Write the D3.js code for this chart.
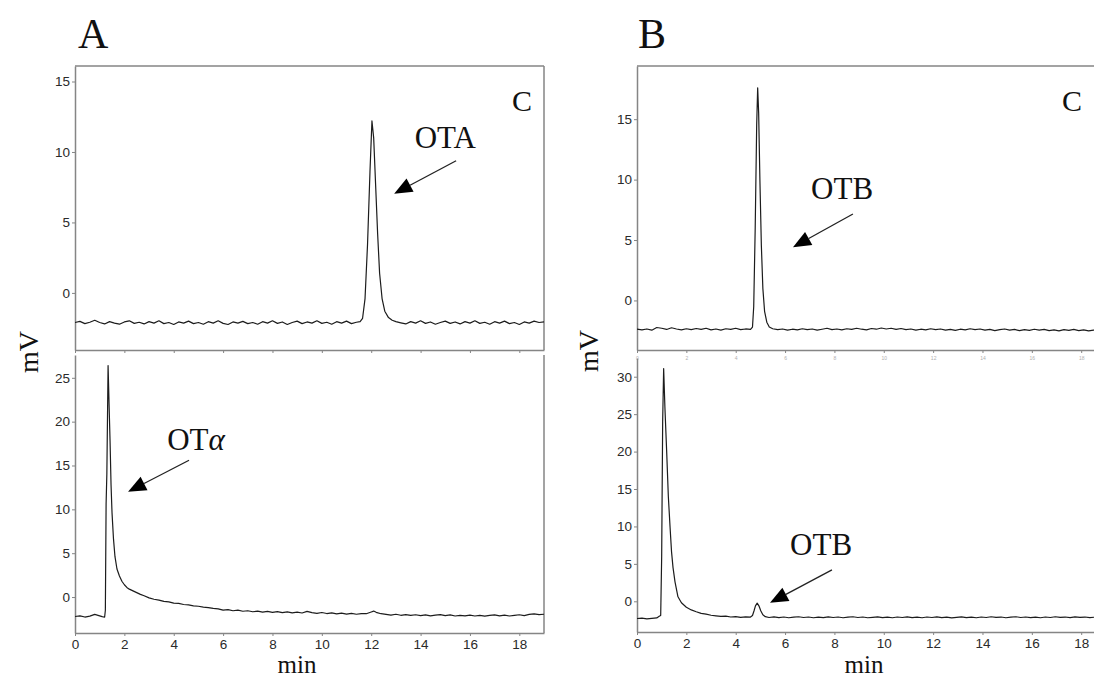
<!DOCTYPE html>
<html>
<head>
<meta charset="utf-8">
<script src="https://cdn.jsdelivr.net/npm/d3@7"></script>
<style>
  body { margin: 0; background: #fff; }
  svg { display: block; }
</style>
</head>
<body>
<svg id="chart" width="1094" height="679"></svg>
<script>
// ---- data (time in min, signal in mV) ----

// A, top: OTA standard
const otaTrace = [
  [0,-2.1],[0.2,-2.02],[0.4,-2.18],[0.6,-2.08],[0.8,-1.94],[1.0,-2.1],[1.2,-2.2],[1.4,-2.04],[1.6,-2.14],[1.8,-2.22],
  [2.0,-2.06],[2.2,-1.98],[2.4,-2.16],[2.6,-2.08],[2.8,-2.2],[3.0,-2.04],[3.2,-2.14],[3.4,-1.98],[3.6,-2.18],[3.8,-2.1],
  [4.0,-2.24],[4.2,-2.06],[4.4,-2.14],[4.6,-2.0],[4.8,-2.18],[5.0,-2.1],[5.2,-2.22],[5.4,-2.04],[5.6,-2.14],[5.8,-1.98],
  [6.0,-2.16],[6.2,-2.24],[6.4,-2.06],[6.6,-2.14],[6.8,-2.02],[7.0,-2.18],[7.2,-2.1],[7.4,-2.22],[7.6,-2.04],[7.8,-2.14],
  [8.0,-1.98],[8.2,-2.16],[8.4,-2.06],[8.6,-2.24],[8.8,-2.1],[9.0,-2.0],[9.2,-2.18],[9.4,-2.06],[9.6,-2.14],[9.8,-1.98],
  [10.0,-2.16],[10.2,-2.08],[10.4,-2.22],[10.6,-2.04],[10.8,-2.14],[11.0,-2.0],[11.2,-2.18],[11.4,-2.08],[11.55,-2.04],[11.65,-1.8],
  [11.75,-0.4],[11.85,3.4],[11.95,8.6],[12.03,12.2],[12.1,11.0],[12.18,7.6],[12.26,4.2],[12.34,1.4],[12.44,-0.4],[12.55,-1.3],
  [12.7,-1.75],[12.85,-1.94],[13.0,-2.04],[13.2,-2.12],[13.4,-2.2],[13.6,-2.04],[13.8,-2.14],[14.0,-1.98],[14.2,-2.16],[14.4,-2.06],
  [14.6,-2.22],[14.8,-2.1],[15.0,-2.0],[15.2,-2.16],[15.4,-2.06],[15.6,-2.2],[15.8,-2.04],[16.0,-2.14],[16.2,-1.98],[16.4,-2.16],
  [16.6,-2.08],[16.8,-2.22],[17.0,-2.04],[17.2,-2.14],[17.4,-2.0],[17.6,-2.18],[17.8,-2.1],[18.0,-2.24],[18.2,-2.06],[18.4,-2.14],
  [18.6,-2.0],[18.8,-2.1],[19.0,-2.06]
];

// A, bottom: OTalpha
const otAlphaTrace = [
  [0,-2.22],[0.2,-2.14],[0.4,-2.28],[0.6,-2.18],[0.8,-1.98],[1.0,-2.14],[1.1,-2.24],[1.2,-2.3],[1.23,-1.5],[1.26,10.6],
  [1.29,14.0],[1.34,26.4],[1.38,22.0],[1.42,17.8],[1.46,12.8],[1.5,9.6],[1.56,6.6],[1.62,4.6],[1.7,3.2],[1.8,2.4],
  [1.9,1.8],[2.0,1.4],[2.1,1.1],[2.2,0.9],[2.35,0.7],[2.5,0.5],[2.65,0.3],[2.8,0.15],[3.0,-0.1],[3.2,-0.25],
  [3.4,-0.35],[3.6,-0.5],[3.8,-0.55],[4.0,-0.7],[4.2,-0.72],[4.4,-0.85],[4.6,-0.9],[4.8,-1.0],[5.0,-1.05],[5.2,-1.15],
  [5.4,-1.2],[5.6,-1.3],[5.8,-1.35],[6.0,-1.5],[6.2,-1.44],[6.4,-1.56],[6.6,-1.5],[6.8,-1.62],[7.0,-1.56],[7.2,-1.68],
  [7.4,-1.6],[7.6,-1.72],[7.8,-1.64],[8.0,-1.74],[8.2,-1.66],[8.4,-1.78],[8.6,-1.7],[8.8,-1.8],[9.0,-1.72],[9.2,-1.82],
  [9.4,-1.64],[9.6,-1.78],[9.8,-1.86],[10.0,-1.76],[10.2,-1.88],[10.4,-1.8],[10.6,-1.92],[10.8,-1.84],[11.0,-1.94],[11.2,-1.86],
  [11.4,-1.96],[11.6,-1.88],[11.8,-1.9],[12.0,-1.7],[12.1,-1.6],[12.2,-1.74],[12.4,-1.9],[12.6,-1.98],[12.8,-2.06],[13.0,-1.96],
  [13.2,-2.08],[13.4,-2.0],[13.6,-2.1],[13.8,-2.02],[14.0,-2.12],[14.2,-2.04],[14.4,-2.14],[14.6,-2.06],[14.8,-2.0],[15.0,-2.12],
  [15.2,-2.04],[15.4,-2.16],[15.6,-2.08],[15.8,-2.14],[16.0,-2.06],[16.2,-2.16],[16.4,-2.08],[16.6,-2.18],[16.8,-2.1],[17.0,-2.04],
  [17.2,-2.14],[17.4,-2.06],[17.6,-2.16],[17.8,-2.08],[18.0,-2.02],[18.2,-2.12],[18.4,-1.98],[18.6,-1.92],[18.8,-2.0],[19.0,-1.96]
];

// B, top: OTB standard
const otbTrace = [
  [0,-2.38],[0.2,-2.44],[0.4,-2.36],[0.6,-2.46],[0.8,-2.24],[1.0,-2.3],[1.2,-2.4],[1.4,-2.26],[1.6,-2.36],[1.8,-2.44],
  [2.0,-2.34],[2.2,-2.42],[2.4,-2.32],[2.6,-2.4],[2.8,-2.3],[3.0,-2.44],[3.2,-2.36],[3.4,-2.46],[3.6,-2.34],[3.8,-2.4],
  [4.0,-2.3],[4.2,-2.42],[4.4,-2.36],[4.6,-2.4],[4.68,-2.2],[4.73,-0.5],[4.79,6.0],[4.85,14.5],[4.89,17.6],[4.93,15.5],
  [4.98,10.0],[5.04,4.5],[5.1,1.0],[5.17,-0.9],[5.26,-1.8],[5.36,-2.2],[5.5,-2.34],[5.7,-2.42],[5.9,-2.36],[6.1,-2.46],
  [6.3,-2.38],[6.5,-2.44],[6.7,-2.34],[6.9,-2.42],[7.1,-2.36],[7.3,-2.46],[7.5,-2.38],[7.7,-2.3],[7.9,-2.42],[8.1,-2.36],
  [8.3,-2.44],[8.5,-2.34],[8.7,-2.4],[8.9,-2.3],[9.1,-2.38],[9.3,-2.44],[9.5,-2.32],[9.7,-2.38],[9.9,-2.28],[10.1,-2.36],
  [10.3,-2.3],[10.5,-2.4],[10.7,-2.32],[10.9,-2.42],[11.1,-2.36],[11.3,-2.46],[11.5,-2.38],[11.7,-2.44],[11.9,-2.34],[12.1,-2.42],
  [12.3,-2.36],[12.5,-2.46],[12.7,-2.4],[12.9,-2.48],[13.1,-2.38],[13.3,-2.44],[13.5,-2.34],[13.7,-2.42],[13.9,-2.36],[14.1,-2.46],
  [14.3,-2.4],[14.5,-2.5],[14.7,-2.42],[14.9,-2.36],[15.1,-2.46],[15.3,-2.4],[15.5,-2.5],[15.7,-2.42],[15.9,-2.48],[16.1,-2.38],
  [16.3,-2.46],[16.5,-2.4],[16.7,-2.5],[16.9,-2.44],[17.1,-2.52],[17.3,-2.42],[17.5,-2.48],[17.7,-2.4],[17.9,-2.5],[18.1,-2.44],
  [18.3,-2.52],[18.5,-2.46],[18.7,-2.5]
];

// B, bottom: sample with OTB
const otbSampleTrace = [
  [0,-2.3],[0.2,-2.24],[0.4,-2.34],[0.6,-2.28],[0.8,-2.22],[0.9,-2.0],[0.96,-1.9],[1.0,6.0],[1.04,24.0],[1.08,31.1],
  [1.13,26.0],[1.2,20.2],[1.27,14.0],[1.34,9.9],[1.4,6.6],[1.46,4.5],[1.54,2.6],[1.66,0.6],[1.8,-0.2],[2.0,-0.8],
  [2.2,-1.15],[2.4,-1.4],[2.6,-1.62],[2.8,-1.72],[3.0,-1.86],[3.2,-1.94],[3.4,-2.02],[3.6,-1.98],[3.8,-2.1],[4.0,-2.04],
  [4.2,-2.14],[4.4,-2.08],[4.6,-2.1],[4.68,-1.9],[4.74,-1.3],[4.8,-0.6],[4.87,-0.25],[4.94,-0.6],[5.02,-1.3],[5.1,-1.8],
  [5.2,-2.05],[5.35,-2.16],[5.55,-2.08],[5.75,-2.18],[5.95,-2.1],[6.15,-2.2],[6.35,-2.12],[6.55,-2.06],[6.75,-2.16],[6.95,-2.1],
  [7.15,-2.2],[7.35,-2.12],[7.55,-2.18],[7.75,-2.08],[7.95,-2.16],[8.15,-2.1],[8.35,-2.2],[8.55,-2.12],[8.75,-2.06],[8.95,-2.16],
  [9.15,-2.1],[9.35,-2.2],[9.55,-2.14],[9.75,-2.08],[9.95,-2.18],[10.15,-2.12],[10.35,-2.2],[10.55,-2.1],[10.75,-2.16],[10.95,-2.08],
  [11.15,-2.18],[11.35,-2.12],[11.55,-2.2],[11.75,-2.1],[11.95,-2.16],[12.15,-2.08],[12.35,-2.18],[12.55,-2.12],[12.75,-2.22],[12.95,-2.14],
  [13.15,-2.08],[13.35,-2.18],[13.55,-2.12],[13.75,-2.2],[13.95,-2.1],[14.15,-2.16],[14.35,-2.06],[14.55,-2.14],[14.75,-2.1],[14.95,-2.2],
  [15.15,-2.12],[15.35,-2.06],[15.55,-2.16],[15.75,-2.1],[15.95,-2.18],[16.15,-2.12],[16.35,-2.2],[16.55,-2.1],[16.75,-2.16],[16.95,-2.06],
  [17.15,-2.14],[17.35,-2.1],[17.55,-2.18],[17.75,-2.08],[17.95,-2.14],[18.15,-2.1],[18.35,-2.18],[18.55,-2.12],[18.7,-2.16]
];

// tick values
const timeTicks = [0, 2, 4, 6, 8, 10, 12, 14, 16, 18];
const otaTicks = [0, 5, 10, 15];
const otAlphaTicks = [0, 5, 10, 15, 20, 25];
const otbTicks = [0, 5, 10, 15];
const otbSampleTicks = [0, 5, 10, 15, 20, 25, 30];

// y domains (mV)
const otaDomain = [-4.05, 16.1];
const otAlphaDomain = [-4.1, 27.6];
const otbDomain = [-4.1, 19.4];
const otbSampleDomain = [-4.1, 32.5];

// annotations, in data units: label position, arrow start, arrow tip
const otaNote = { text: "OTA", tx: 15.0, ty: 10.3, x1: 15.44, y1: 9.38, x2: 12.93, y2: 7.04 };
const otAlphaNote = { text: "OT", greek: "α", tx: 4.9, ty: 16.8, x1: 4.62, y1: 15.6, x2: 2.15, y2: 12.0 };
const otbNote = { text: "OTB", tx: 8.31, ty: 8.39, x1: 8.75, y1: 7.15, x2: 6.32, y2: 4.4 };
const otbSampleNote = { text: "OTB", tx: 7.46, ty: 6.2, x1: 7.9, y1: 4.2, x2: 5.39, y2: -0.2 };

// ---- drawing ----
const svg = d3.select("#chart");
const serif = "'Liberation Serif','Times New Roman',serif";
const sans = "'Liberation Sans',Arial,sans-serif";
const frameColor = "#858585";
const lineColor = "#1c1c1c";

const colA = { left: 75, right: 544, xMax: 19 };
const colB = { left: 637, right: 1096, xMax: 18.6 };

let clipId = 0;

function drawPanel(col, top, bottom, yDomain, yTicks, trace, opts) {

  const x = d3.scaleLinear().domain([0, col.xMax]).range([col.left, col.right]);
  const y = d3.scaleLinear().domain(yDomain).range([bottom, top]);
  const g = svg.append("g");

  const id = "clip" + (clipId++);
  svg.append("defs").append("clipPath").attr("id", id)
    .append("rect")
    .attr("x", col.left).attr("y", top)
    .attr("width", col.right - col.left).attr("height", bottom - top);

  // y axis
  const yAxis = d3.axisLeft(y)
    .tickValues(yTicks)
    .tickSize(3)
    .tickSizeOuter(0)
    .tickPadding(2)
    .tickFormat(d3.format("d"));

  const ya = g.append("g")
    .attr("transform", `translate(${col.left},0)`)
    .call(yAxis);

  // x axis
  const xAxis = d3.axisBottom(x)
    .tickValues(timeTicks)
    .tickSize(3)
    .tickSizeOuter(0)
    .tickPadding(3)
    .tickFormat(d3.format("d"));

  const xa = g.append("g")
    .attr("transform", `translate(0,${bottom})`)
    .call(xAxis);

  [ya, xa].forEach(a => {
    a.select(".domain").attr("stroke", frameColor).attr("stroke-width", 1.5);
    a.selectAll(".tick line").attr("stroke", frameColor).attr("stroke-width", 1);
    a.selectAll(".tick text")
      .attr("fill", "#2a2a2a")
      .style("font-family", sans)
      .style("font-size", "13.5px");
  });

  if (!opts.xLabels) {
    // faint tiny labels under the upper chromatograms
    xa.selectAll(".tick text")
      .style("font-size", "5px")
      .attr("fill", opts.faint ? "#b0b0b0" : "none");
  }

  // remaining frame lines
  if (opts.topLine) {
    g.append("line")
      .attr("x1", col.left).attr("x2", col.right)
      .attr("y1", top).attr("y2", top)
      .attr("stroke", frameColor).attr("stroke-width", 1.5);
  }
  g.append("line")
    .attr("x1", col.right).attr("x2", col.right)
    .attr("y1", top).attr("y2", bottom)
    .attr("stroke", frameColor).attr("stroke-width", 1.5);

  // trace
  const line = d3.line()
    .x(d => x(d[0]))
    .y(d => y(d[1]));

  g.append("path")
    .datum(trace)
    .attr("clip-path", `url(#${id})`)
    .attr("fill", "none")
    .attr("stroke", lineColor)
    .attr("stroke-width", 1.2)
    .attr("stroke-linejoin", "round")
    .attr("d", line);

  return { x, y, g };
}

function annotate(panel, note) {

  const t = panel.g.append("text")
    .attr("x", panel.x(note.tx))
    .attr("y", panel.y(note.ty))
    .attr("text-anchor", "middle")
    .style("font-family", serif)
    .style("font-size", "31px")
    .attr("fill", "#111")
    .text(note.text);

  if (note.greek) {
    t.append("tspan").style("font-style", "italic").text(note.greek);
  }

  const x1 = panel.x(note.x1), y1 = panel.y(note.y1);
  const x2 = panel.x(note.x2), y2 = panel.y(note.y2);
  const len = Math.hypot(x2 - x1, y2 - y1);
  const ux = (x2 - x1) / len, uy = (y2 - y1) / len;
  const headLen = 18, headHalf = 7.5;
  const bx = x2 - ux * headLen, by = y2 - uy * headLen;

  panel.g.append("line")
    .attr("x1", x1).attr("y1", y1)
    .attr("x2", bx).attr("y2", by)
    .attr("stroke", "#222")
    .attr("stroke-width", 1.3);

  panel.g.append("path")
    .attr("d", `M${x2},${y2}L${bx - uy * headHalf},${by + ux * headHalf}L${bx + uy * headHalf},${by - ux * headHalf}Z`)
    .attr("fill", "#000");
}

// panels
const aTop = drawPanel(colA, 66, 350, otaDomain, otaTicks, otaTrace, { topLine: true, xLabels: false, faint: false });
const aBottom = drawPanel(colA, 355, 633, otAlphaDomain, otAlphaTicks, otAlphaTrace, { topLine: false, xLabels: true });
const bTop = drawPanel(colB, 66, 350, otbDomain, otbTicks, otbTrace, { topLine: true, xLabels: false, faint: true });
const bBottom = drawPanel(colB, 358, 632, otbSampleDomain, otbSampleTicks, otbSampleTrace, { topLine: false, xLabels: true });

annotate(aTop, otaNote);
annotate(aBottom, otAlphaNote);
annotate(bTop, otbNote);
annotate(bBottom, otbSampleNote);

// panel letters and "C" marks
function bigText(x, y, txt, size, anchor) {
  svg.append("text")
    .attr("x", x).attr("y", y)
    .attr("text-anchor", anchor || "start")
    .style("font-family", serif)
    .style("font-size", size + "px")
    .attr("fill", "#111")
    .text(txt);
}

bigText(78, 48, "A", 42);
bigText(638, 48, "B", 42);
bigText(colA.right - 22, 111, "C", 30, "middle");
bigText(colB.left + 435, 111, "C", 30, "middle");

// axis titles
bigText(colA.left + 222, 673, "min", 25, "middle");
bigText(colB.left + 227, 673, "min", 25, "middle");

[[38, 352], [598, 351]].forEach(([px, py]) => {
  svg.append("text")
    .attr("transform", `translate(${px},${py}) rotate(-90)`)
    .attr("text-anchor", "middle")
    .style("font-family", serif)
    .style("font-size", "28px")
    .attr("fill", "#111")
    .text("mV");
});
</script>
</body>
</html>
